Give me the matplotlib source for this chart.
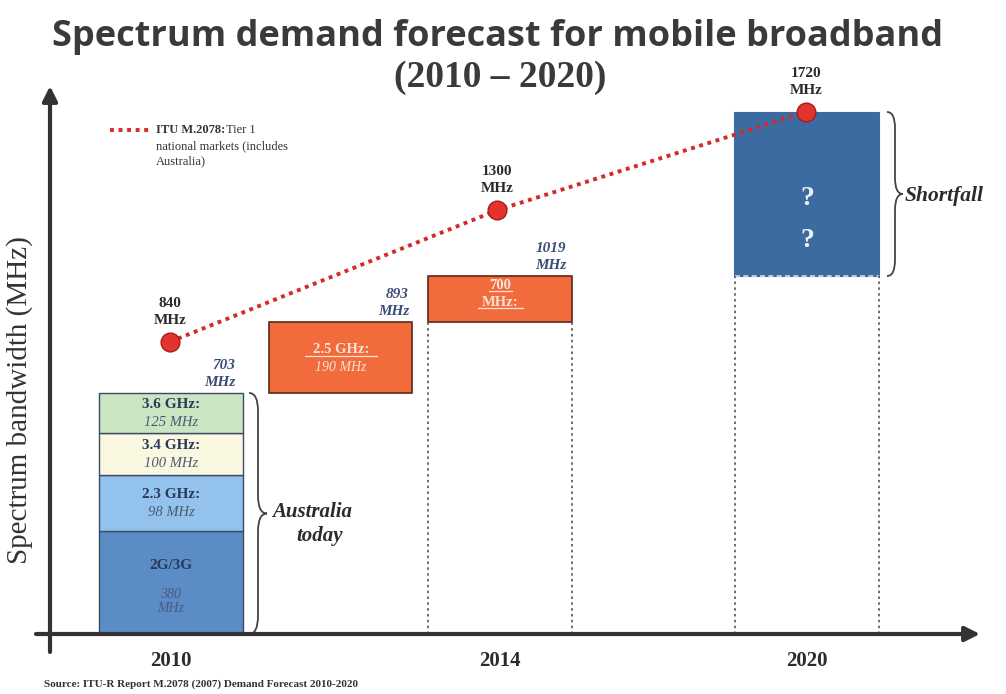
import matplotlib
matplotlib.use("Agg")
import matplotlib.pyplot as plt
import numpy as np
from matplotlib.path import Path
from matplotlib.patches import PathPatch

# data (MHz)
years = ['2010', '2014', '2020']
demand = [840, 1300, 1720]
bands_2010 = ['2G/3G', '2.3 GHz:', '3.4 GHz:', '3.6 GHz:']
mhz_2010 = [380, 98, 100, 125]
band_25 = '2.5 GHz:'
mhz_25 = 190
band_700 = '700'
mhz_700 = 126

# layout (pixel positions, figure is 1006 x 694)
W, H = 1006, 694
base_px = 634
x_year = [171, 500, 807]
x_25 = 341
x_pts = [170, 497, 806]
bar_w = 144

colors_2010 = ['#5b8cc6', '#93c3ec', '#fbf8e2', '#cbe5c3']
orange = '#f26b3d'
dark_blue = '#3b6ba0'
red = '#e2342c'
ink = '#2b2b2b'
navy = '#2a3a5c'
pale = '#fbe3d6'

tot_2010 = np.cumsum(mhz_2010)
top_25 = tot_2010[-1] + mhz_25
top_700 = top_25 + mhz_700

# the diagram is not drawn to scale: piecewise linear MHz -> pixel mapping
knot_mhz = np.array([-1000, 0, 380, 478, 578, 703, 893, 1019, 1720, 4000])
knot_px = np.array([-271, 0, 103, 159, 201, 241, 312, 358, 522, 1055])


def fwd(v):
    return np.interp(v, knot_mhz, knot_px)


def inv(p):
    return np.interp(p, knot_px, knot_mhz)


fig = plt.figure(figsize=(W / 100, H / 100), dpi=100)
ax = fig.add_axes([0, 0, 1, 1])
ax.set_yscale('function', functions=(fwd, inv))
ax.set_xlim(0, W)
ax.set_ylim(inv(-(H - base_px)), inv(base_px))
ax.axis('off')

ov = fig.add_axes([0, 0, 1, 1], zorder=5)
ov.set_xlim(0, W)
ov.set_ylim(H, 0)
ov.axis('off')
ov.patch.set_alpha(0)

serif = 'Liberation Serif'

# 2010 stack
bottoms = np.concatenate([[0], tot_2010[:-1]])
ax.bar([x_year[0]] * 4, mhz_2010, bottom=bottoms, width=bar_w,
       color=colors_2010, edgecolor='#3a4a60', linewidth=1)
for i, (name, val, b) in enumerate(zip(bands_2010, mhz_2010, bottoms)):
    mid = inv((fwd(b) + fwd(b + val)) / 2)
    if i == 0:
        ax.annotate(name, (x_year[0], mid), xytext=(0, 12), textcoords='offset points',
                    ha='center', va='center', fontsize=11, fontweight='bold',
                    family=serif, color=navy)
        ax.annotate(f'{val}\nMHz', (x_year[0], mid), xytext=(0, -14), textcoords='offset points',
                    ha='center', va='center', fontsize=10, style='italic',
                    family=serif, color='#4a5a80', linespacing=1.1)
    else:
        ax.annotate(name, (x_year[0], mid), xytext=(0, 6), textcoords='offset points',
                    ha='center', va='center', fontsize=11, fontweight='bold',
                    family=serif, color=navy)
        ax.annotate(f'{val} MHz', (x_year[0], mid), xytext=(0, -7), textcoords='offset points',
                    ha='center', va='center', fontsize=10.5, style='italic',
                    family=serif, color='#4a5a70')

# 2.5 GHz and 700 MHz additions
ax.bar(x_25, mhz_25, bottom=tot_2010[-1], width=bar_w - 1, color=orange,
       edgecolor='#5a2a1a', linewidth=1.2)
ax.bar(x_year[1], mhz_700, bottom=top_25, width=bar_w, color=orange,
       edgecolor='#5a2a1a', linewidth=1.2)
# 2020 shortfall box
ax.bar(x_year[2], demand[2] - top_700, bottom=top_700, width=bar_w + 1,
       color=dark_blue, edgecolor=dark_blue, linewidth=0.8)
ax.hlines(top_700, x_year[2] - bar_w / 2, x_year[2] + bar_w / 2, colors='#d8dde6',
          linestyles=(0, (3, 2)), linewidth=1.2)

# dotted guides under the later bars
for xc, top in [(x_year[1], top_25), (x_year[2], top_700)]:
    ax.vlines([xc - bar_w / 2, xc + bar_w / 2], 0, top, colors='#555555',
              linestyles=(0, (1.5, 2)), linewidth=1.2)

mid25 = inv((fwd(tot_2010[-1]) + fwd(top_25)) / 2)
ax.annotate(band_25, (x_25, mid25), xytext=(0, 6), textcoords='offset points',
            ha='center', va='center', fontsize=10.5, fontweight='bold', family=serif,
            color=pale)
ax.annotate(f'{mhz_25} MHz', (x_25, mid25), xytext=(0, -7), textcoords='offset points',
            ha='center', va='center', fontsize=10, style='italic', family=serif,
            color=pale)
mid700 = inv((fwd(top_25) + fwd(top_700)) / 2)
ax.annotate(band_700, (x_year[1], mid700), xytext=(0, 10), textcoords='offset points',
            ha='center', va='center', fontsize=10.5, fontweight='bold', family=serif,
            color=pale)
ax.annotate('MHz:', (x_year[1], mid700), xytext=(0, -2.5), textcoords='offset points',
            ha='center', va='center', fontsize=10.5, fontweight='bold', family=serif,
            color=pale)
# underlines
for x0, x1, y in [(305, 377, 356), (489, 512, 291), (478, 523, 308)]:
    ov.plot([x0, x1], [y, y], color=pale, lw=0.9)

for yq in [198, 240]:
    ov.text(x_year[2], yq, '?', ha='center', va='center', fontsize=20,
            fontweight='bold', family=serif, color='#eef2f8')

# cumulative labels
for xr, val in [(x_year[0] + bar_w / 2 - 8, tot_2010[-1]),
                (x_25 + bar_w / 2 - 4, top_25),
                (x_year[1] + bar_w / 2 - 6, top_700)]:
    ax.annotate(f'{val}\nMHz', (xr, val), xytext=(0, 3), textcoords='offset points',
                ha='right', va='bottom', fontsize=11, style='italic', fontweight='bold',
                family=serif, color='#3c4c78', linespacing=1.35)

# demand line
ax.plot(x_pts, demand, linestyle=(0, (1, 1.2)), color='#d42a2a', lw=2.8, zorder=6)
ax.plot(x_pts, demand, 'o', ms=13.5, mfc=red, mec='#a81c1c', mew=1, zorder=7)
for x, v in zip(x_pts, demand):
    ax.annotate(f'{v}\nMHz', (x, v), xytext=(0, 11), textcoords='offset points',
                ha='center', va='bottom', fontsize=11, fontweight='bold', family=serif,
                color=ink, linespacing=1.35)

# axes arrows
ov.annotate('', xy=(50, 86), xytext=(50, 652),
            arrowprops=dict(arrowstyle='-|>', lw=3, color='#333333', mutation_scale=22,
                            shrinkA=0, shrinkB=0))
ov.annotate('', xy=(980, base_px), xytext=(36, base_px),
            arrowprops=dict(arrowstyle='-|>', lw=3, color='#333333', mutation_scale=22,
                            shrinkA=0, shrinkB=0))


def brace(x, y0, y1, w):
    m = (y0 + y1) / 2
    h = w / 2
    verts = [(x, y0), (x + h, y0), (x + h, y0 + w),
             (x + h, m - w), (x + h, m), (x + w, m),
             (x + h, m), (x + h, m + w),
             (x + h, y1 - w), (x + h, y1), (x, y1)]
    codes = [Path.MOVETO, Path.CURVE3, Path.CURVE3,
             Path.LINETO, Path.CURVE3, Path.CURVE3,
             Path.CURVE3, Path.CURVE3,
             Path.LINETO, Path.CURVE3, Path.CURVE3]
    ov.add_patch(PathPatch(Path(verts, codes), fill=False, color='#444444', lw=1.3))


brace(249, 393, 634, 18)
brace(887, 112, 276, 16)
ov.text(312, 512, 'Australia', ha='center', va='center', fontsize=15, fontweight='bold',
        style='italic', family=serif, color=ink)
ov.text(320, 536, 'today', ha='center', va='center', fontsize=15, fontweight='bold',
        style='italic', family=serif, color=ink)
ov.text(905, 196, 'Shortfall', ha='left', va='center', fontsize=15.5, fontweight='bold',
        style='italic', family=serif, color=ink)

# year labels
for x, y in zip(x_year, years):
    ov.text(x, 661, y, ha='center', va='center', fontsize=15, fontweight='bold',
            family=serif, color=ink)

# legend
ov.plot([110, 150], [130, 130], linestyle=(0, (1, 1.2)), color='#d42a2a', lw=2.8)
ov.text(156, 130, 'ITU M.2078:', ha='left', va='center', fontsize=9,
        fontweight='bold', family=serif, color='#333333')
ov.text(226, 130, 'Tier 1', ha='left', va='center', fontsize=9, family=serif,
        color='#333333')
ov.text(156, 146, 'national markets (includes', ha='left', va='center',
        fontsize=9, family=serif, color='#333333')
ov.text(156, 161, 'Australia)', ha='left', va='center',
        fontsize=9, family=serif, color='#333333')

# titles
ov.text(498, 37, 'Spectrum demand forecast for mobile broadband', ha='center',
        va='center', fontsize=26, fontweight='bold', family='Open Sans', color='#3a3a3a')
ov.text(500, 77, '(2010 \u2013 2020)', ha='center', va='center', fontsize=27,
        fontweight='bold', family=serif, color='#3a3a3a')
ov.text(20, 400, 'Spectrum bandwidth (MHz)', rotation=90, ha='center', va='center',
        fontsize=21, family=serif, color='#333333')
ov.text(44, 684, 'Source: ITU-R Report M.2078 (2007) Demand Forecast 2010-2020',
        ha='left', va='center', fontsize=8, fontweight='bold', family=serif,
        color='#333333')

fig.savefig('out.png', dpi=100)
